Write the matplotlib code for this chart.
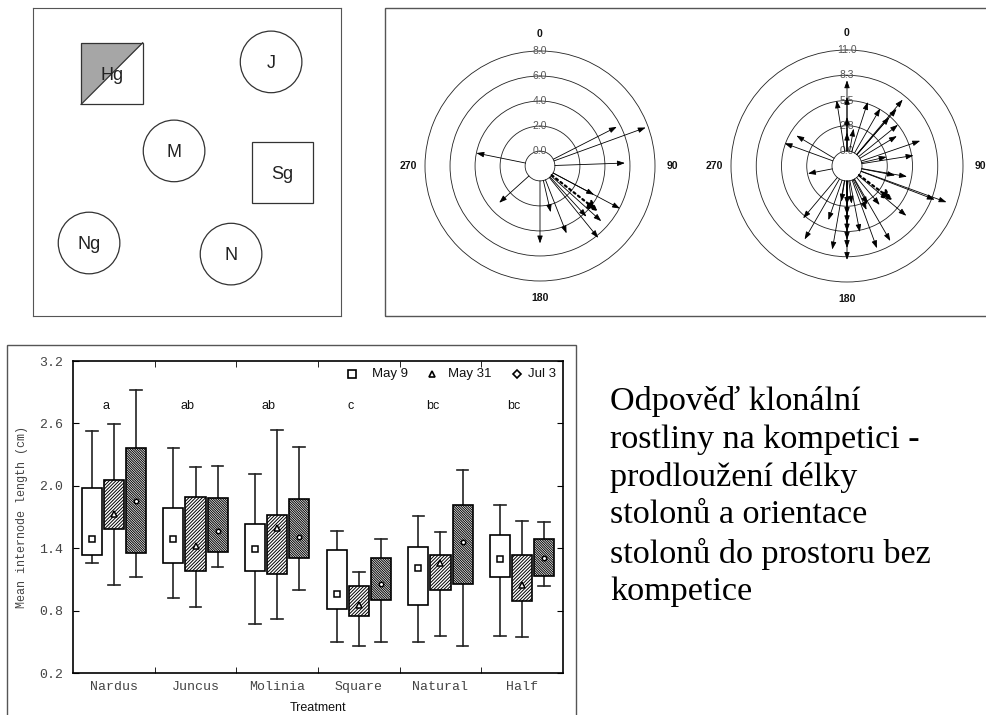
import numpy as np
import matplotlib
matplotlib.use("Agg")
import matplotlib.pyplot as plt
from matplotlib.patches import Rectangle, Circle, Polygon

W, H = 987, 715

# --- plot layout (schematic, 0-100 units, y down) ---
PLOT_LABELS = ["Hg", "J", "M", "Sg", "Ng", "N"]
PLOT_SHAPES = ["half", "circle", "circle", "square", "circle", "circle"]
PLOT_X = [25.6, 77.3, 45.8, 81.0, 18.2, 64.3]
PLOT_Y = [21.3, 17.5, 46.4, 53.4, 76.3, 79.9]

# --- stolon directions (deg, clockwise from N) and lengths ---
P1_RINGS = [0.0, 2.0, 4.0, 6.0, 8.0]
P1_RING_LABELS = ["0.0", "2.0", "4.0", "6.0", "8.0"]
P1_ANGLE = [63, 70, 88, 281.5, 228, 180, 167, 158.5, 137.5, 141, 132, 118, 118]
P1_LEN = [5.7, 7.8, 5.6, 4.0, 3.2, 5.0, 2.6, 4.6, 4.3, 6.2, 5.4, 3.7, 6.05]
P1_MEAN = (128, 4.7)

P2_RINGS = [0.0, 2.75, 5.5, 8.25, 11.0]
P2_RING_LABELS = ["0.0", "2.8", "5.5", "8.3", "11.0"]
P2_ANGLE = [0, 0, 0, 0, 351, 10, 18, 30, 40, 41, 41, 51, 59, 71, 77, 81,
            90, 90, 90, 90, 90, 100, 101, 110, 111, 130, 140, 150, 152, 156,
            160, 169, 173, 180, 180, 180, 180, 180, 180, 180, 189, 190, 199,
            210, 220, 259, 270, 270, 270, 270, 290, 301]
P2_LEN = [7.7, 5.9, 3.7, 2.0, 5.6, 2.5, 5.7, 5.6, 7.8, 6.6, 5.4, 5.5, 4.7,
          6.8, 2.8, 5.7, 2.5, 3.9, 5.6, 9.7, 10.8, 5.0, 3.7, 9.9, 8.6, 6.8,
          3.9, 7.8, 3.1, 3.6, 7.9, 5.7, 2.5, 2.6, 3.7, 4.6, 5.5, 6.4, 7.3,
          8.6, 2.3, 7.6, 4.6, 7.6, 5.8, 2.7, 0.4, 2.6, 6.6, 8.6, 5.6, 4.8]
P2_MEAN = (127, 4.6)

# --- internode length by treatment and date ---
TREATMENTS = ["Nardus", "Juncus", "Molinia", "Square", "Natural", "Half"]
DATES = ["May 9", "May 31", "Jul 3"]
GROUP_LETTERS = ["a", "ab", "ab", "c", "bc", "bc"]
# rows = treatments, cols = dates
MEAN = [[1.49, 1.73, 1.85], [1.49, 1.42, 1.57], [1.39, 1.59, 1.51],
        [0.96, 0.85, 1.06], [1.21, 1.26, 1.46], [1.30, 1.05, 1.31]]
Q1 = [[1.33, 1.58, 1.35], [1.26, 1.18, 1.36], [1.18, 1.15, 1.31],
      [0.82, 0.75, 0.90], [0.85, 1.00, 1.06], [1.12, 0.89, 1.13]]
Q3 = [[1.98, 2.06, 2.36], [1.79, 1.89, 1.88], [1.63, 1.72, 1.87],
      [1.38, 1.04, 1.31], [1.41, 1.33, 1.82], [1.53, 1.33, 1.485]]
WLO = [[1.26, 1.05, 1.12], [0.92, 0.83, 1.22], [0.67, 0.72, 1.00],
       [0.50, 0.46, 0.50], [0.50, 0.56, 0.46], [0.56, 0.55, 1.04]]
WHI = [[2.53, 2.59, 2.92], [2.36, 2.18, 2.19], [2.11, 2.54, 2.375],
       [1.57, 1.175, 1.49], [1.71, 1.556, 2.15], [1.815, 1.665, 1.65]]

TEXT = ("Odpověď klonální\nrostliny na kompetici -\nprodloužení délky\n"
        "stolonů a orientace\nstolonů do prostoru bez\nkompetice")

plt.rcParams["font.family"] = ["Liberation Sans", "DejaVu Sans"]
plt.rcParams["hatch.linewidth"] = 0.7


def px_box(x0, y0, x1, y1):
    """Pixel rectangle (top-left origin) -> figure fraction [l, b, w, h]."""
    return [x0 / W, 1 - y1 / H, (x1 - x0) / W, (y1 - y0) / H]


def frame(fig, x0, y0, x1, y1):
    fig.add_artist(Rectangle((x0 / W, 1 - y1 / H), (x1 - x0) / W, (y1 - y0) / H,
                             transform=fig.transFigure, fill=False,
                             edgecolor="#555555", lw=1.0))


fig = plt.figure(figsize=(W / 100, H / 100), dpi=100)

# ---------- schematic of the plot ----------
ax0 = fig.add_axes(px_box(33, 8, 341, 316))
ax0.set_xlim(0, 100)
ax0.set_ylim(100, 0)
ax0.set_xticks([])
ax0.set_yticks([])
for s in ax0.spines.values():
    s.set_color("#555555")
for lab, shp, x, y in zip(PLOT_LABELS, PLOT_SHAPES, PLOT_X, PLOT_Y):
    r = 10
    if shp == "circle":
        ax0.add_patch(Circle((x, y), r, fill=False, ec="#333333", lw=0.9))
    else:
        if shp == "half":
            ax0.add_patch(Polygon([(x - r, y + r), (x - r, y - r), (x + r, y - r)],
                                  closed=True, fc="#a6a6a6", ec="none"))
            ax0.plot([x - r, x + r], [y + r, y - r], color="#333333", lw=0.9)
        ax0.add_patch(Rectangle((x - r, y - r), 2 * r, 2 * r, fill=False,
                                ec="#333333", lw=0.9))
    ax0.text(x, y + 0.5, lab, ha="center", va="center", fontsize=13,
             color="#222222")

frame(fig, 385, 8, 995, 316)


# ---------- rose diagrams ----------
def rose(rect, rings, ring_labels, angles, lengths, mean):
    ax = fig.add_axes(rect, projection="polar")
    rmax = rings[-1]
    hole = rmax * 15 / 101
    ax.set_theta_zero_location("N")
    ax.set_theta_direction(-1)
    ax.set_ylim(0, rmax)
    ax.set_rorigin(-hole)
    ax.set_xticks([])
    ax.set_yticks(rings[1:-1])
    ax.set_yticklabels([])
    ax.yaxis.grid(True, color="#222222", lw=0.6, ls="-")
    ax.xaxis.grid(False)
    for k in ("polar", "inner"):
        ax.spines[k].set_color("#222222")
        ax.spines[k].set_linewidth(0.6)
    for v, t in zip(rings, ring_labels):
        ax.text(0, v, t, ha="center", va="center", fontsize=7.5,
                color="#555555")
    r_lab = rmax + (rmax + hole) * 0.148
    for deg in (0, 90, 180, 270):
        ax.text(np.deg2rad(deg), r_lab, str(deg), ha="center", va="center",
                fontsize=7.5, fontweight="bold", color="#111111")
    for a, l in zip(angles, lengths):
        ax.annotate("", xy=(np.deg2rad(a), l), xytext=(np.deg2rad(a), 0),
                    arrowprops=dict(arrowstyle="-|>,head_length=0.45,head_width=0.16",
                                    color="black", lw=0.6, mutation_scale=10,
                                    shrinkA=0, shrinkB=0))
    ax.annotate("", xy=(np.deg2rad(mean[0]), mean[1]),
                xytext=(np.deg2rad(mean[0]), 0),
                arrowprops=dict(arrowstyle="-|>,head_length=0.5,head_width=0.22",
                                color="black", lw=1.6, ls=(0, (1, 1.5)),
                                mutation_scale=13, shrinkA=0, shrinkB=0))
    return ax


rose(px_box(425, 51, 655, 281), P1_RINGS, P1_RING_LABELS, P1_ANGLE, P1_LEN, P1_MEAN)
rose(px_box(731, 50, 963, 282), P2_RINGS, P2_RING_LABELS, P2_ANGLE, P2_LEN, P2_MEAN)

# ---------- internode length box plot ----------
frame(fig, 7, 345, 576, 730)
ax = fig.add_axes(px_box(73, 361, 563, 673))
offsets = [-0.27, 0.0, 0.27]
hatches = ["", "/" * 10, "\\" * 14]
markers = ["s", "^", "o"]
msizes = [5, 4.5, 3.2]
for j in range(3):
    stats = []
    for i in range(len(TREATMENTS)):
        stats.append(dict(med=MEAN[i][j], mean=MEAN[i][j], q1=Q1[i][j],
                          q3=Q3[i][j], whislo=WLO[i][j], whishi=WHI[i][j],
                          fliers=[]))
    pos = [i + offsets[j] for i in range(len(TREATMENTS))]
    art = ax.bxp(stats, positions=pos, widths=0.245, capwidths=0.145,
                 patch_artist=True, showmeans=True, showfliers=False,
                 manage_ticks=False,
                 boxprops=dict(facecolor="white", edgecolor="black", lw=1.2),
                 whiskerprops=dict(color="#222222", lw=1.2),
                 capprops=dict(color="#222222", lw=1.2),
                 medianprops=dict(lw=0),
                 meanprops=dict(marker=markers[j], markersize=msizes[j],
                                markerfacecolor="white", markeredgecolor="black",
                                markeredgewidth=1.1))
    for b in art["boxes"]:
        b.set_hatch(hatches[j])
    for w in art["whiskers"]:
        w.set_zorder(1)

for i, g in enumerate(GROUP_LETTERS):
    ax.text(i - 0.1, 2.77, g, ha="center", va="center", fontsize=9,
            color="#111111")

ax.set_xlim(-0.5, len(TREATMENTS) - 0.5)
ax.set_ylim(0.2, 3.2)
ax.set_yticks([0.2, 0.8, 1.4, 2.0, 2.6, 3.2])
ax.set_yticklabels(["0.2", "0.8", "1.4", "2.0", "2.6", "3.2"])
ax.set_xticks(range(len(TREATMENTS)))
ax.set_xticklabels(TREATMENTS)
ax.set_xticks(np.arange(0.5, len(TREATMENTS) - 0.5), minor=True)
ax.tick_params(axis="x", which="major", length=0, pad=6)
ax.tick_params(axis="x", which="minor", direction="in", length=4,
               top=True, bottom=True)
ax.tick_params(axis="y", direction="in", length=4, left=True, right=True,
               pad=7)
for t in ax.get_xticklabels() + ax.get_yticklabels():
    t.set_family("Liberation Mono")
    t.set_fontsize(9.5)
    t.set_color("#444444")
for s in ax.spines.values():
    s.set_linewidth(1.2)
ax.set_ylabel("Mean internode length (cm)", family="Liberation Mono",
              fontsize=8.5, color="#444444", labelpad=8)
ax.set_xlabel("Treatment", fontsize=9, color="#111111", labelpad=6)

# legend row: marker then label, fixed column positions
leg_marker_x = [0.569, 0.733, 0.906]
leg_text_x = [0.610, 0.765, 0.929]
for m, s, mx, tx, lab in zip(["s", "^", "D"], [5.5, 5, 3.7],
                             leg_marker_x, leg_text_x, DATES):
    ax.plot([mx], [0.958], ls="none", marker=m, markersize=s,
            markerfacecolor="white", markeredgecolor="black",
            markeredgewidth=1.2, transform=ax.transAxes, clip_on=False)
    ax.text(tx, 0.958, lab, transform=ax.transAxes, ha="left", va="center",
            fontsize=9.5, color="#111111")

fig.text(610 / W, 1 - 386 / H, TEXT, ha="left", va="top", fontsize=24.6,
         family="Liberation Serif", linespacing=1.3, color="black")

fig.savefig("out.png", dpi=100)
